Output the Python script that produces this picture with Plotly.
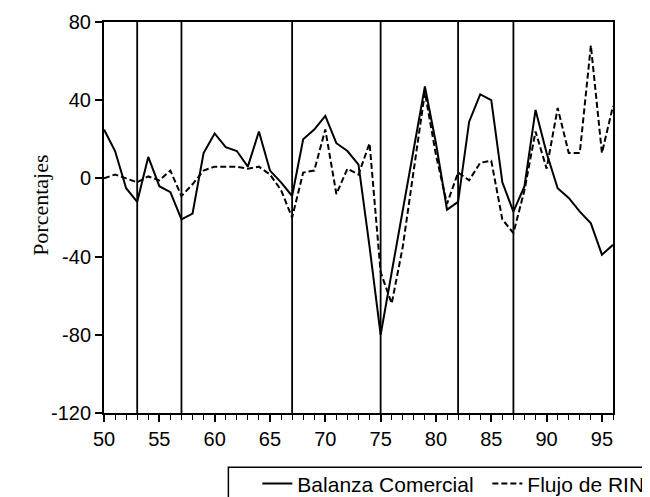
import plotly.graph_objects as go

years = list(range(50, 97))
balanza_comercial = [25, 14, -5, -12, 11, -4, -7, -21, -18, 13,
                     23, 16, 14, 6, 24, 4, -2, -9, 20, 25,
                     32, 18, 14, 7, -35, -80, -48, -16, 15, 47,
                     18, -16, -12, 29, 43, 40, -2, -17, -4, 35,
                     13, -5, -10, -17, -23, -39, -34]
flujo_rin = [0, 2, 0, -2, 1, -1, 4, -9, -3, 4,
             6, 6, 6, 5, 6, 2, -6, -20, 3, 4,
             25, -8, 5, 2, 18, -48, -64, -35, 5, 44,
             12, -13, 3, -1, 8, 9, -21, -28, -6, 24,
             5, 36, 13, 13, 68, 13, 37]
break_years = [53, 57, 67, 75, 82, 87]
y_ticks = [80, 40, 0, -40, -80, -120]
y_tick_labels = ["80", "40", "0", "-40", "-80", "-120"]

# page places the figure 8px in from the top-left corner
OFF = 8
W, H = 650 - OFF, 497 - OFF
L, T = 103.5 - OFF, 21.7 - OFF
R = W - (613 - OFF)
B = H - (412.7 - OFF)
pw, ph = W - L - R, H - T - B


def px_x(xpix):
    return (xpix - OFF - L) / pw


def px_y(ypix):
    return (H - B - (ypix - OFF)) / ph


fig = go.Figure()
fig.add_trace(go.Scatter(x=years, y=balanza_comercial, mode="lines",
                         name="Balanza Comercial",
                         line=dict(color="black", width=2)))
fig.add_trace(go.Scatter(x=years, y=flujo_rin, mode="lines",
                         name="Flujo de RIN",
                         line=dict(color="black", width=2, dash="6px,3px")))

for yr in break_years:
    fig.add_shape(type="line", xref="x", yref="y domain", x0=yr, x1=yr,
                  y0=0, y1=1, line=dict(color="black", width=1.8))

# legend frame
fig.add_shape(type="rect", xref="paper", yref="paper",
              x0=px_x(228), x1=px_x(648.5), y0=px_y(510), y1=px_y(467),
              line=dict(color="black", width=1.5), fillcolor="rgba(0,0,0,0)")

fig.add_annotation(text="Porcentajes", xref="paper", yref="paper",
                   x=px_x(40), y=px_y(205), xanchor="center", yanchor="middle",
                   textangle=-90, showarrow=False,
                   font=dict(family="Liberation Serif", size=22, color="black"))

fig.update_layout(
    width=W, height=H,
    margin=dict(l=L, r=R, t=T, b=B, autoexpand=False, pad=0),
    paper_bgcolor="white", plot_bgcolor="white",
    font=dict(family="Liberation Sans", size=20, color="black"),
    showlegend=True,
    legend=dict(orientation="h", x=px_x(257), y=px_y(463),
                xanchor="left", yanchor="top", entrywidth=185,
                borderwidth=0, bgcolor="rgba(0,0,0,0)",
                font=dict(family="Liberation Sans", size=21, color="black")),
    xaxis=dict(range=[50, 96], tick0=50, dtick=5, ticks="outside", ticklen=7,
               tickwidth=1.5, tickcolor="black", showline=True, mirror=True,
               linewidth=2, linecolor="black", showgrid=False, zeroline=False,
               minor=dict(ticks="outside", dtick=1, tick0=50, ticklen=5,
                          tickwidth=1.2, tickcolor="black", showgrid=False)),
    yaxis=dict(range=[-120, 80], tickvals=y_ticks, ticktext=y_tick_labels,
               ticks="outside", ticklen=7, tickwidth=1.5, tickcolor="black",
               showline=True, mirror=True, linewidth=2, linecolor="black",
               showgrid=False, zeroline=False),
)

fig.write_html("out.html")
